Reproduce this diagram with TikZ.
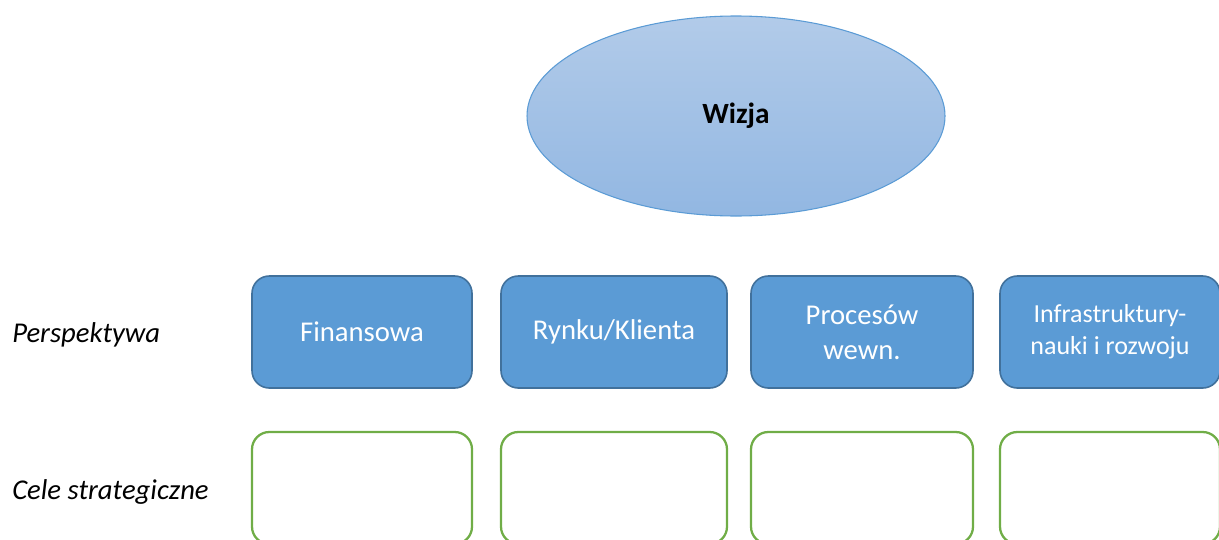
\documentclass[tikz,border=0pt]{standalone}
\usepackage{fontspec}
\setmainfont{Carlito}
\usetikzlibrary{shapes.geometric}

\definecolor{boxblue}{RGB}{91,155,213}
\definecolor{boxedge}{RGB}{65,113,156}
\definecolor{goalgreen}{RGB}{112,173,71}
\definecolor{ovaltop}{RGB}{178,203,233}
\definecolor{ovalbot}{RGB}{146,183,226}
\definecolor{ovaledge}{RGB}{91,155,213}

\begin{document}
\begin{tikzpicture}[x=0.75pt,y=0.75pt,yscale=-1,xscale=1,
  persp/.style={draw=boxedge,fill=boxblue,line width=1.2pt,rounded corners=13pt,
    minimum height=84pt,inner sep=0pt,align=center,text=white,
    font=\fontsize{21.5pt}{26pt}\selectfont},
  goal/.style={draw=goalgreen,line width=1.7pt,rounded corners=13pt,
    minimum height=84pt,inner sep=0pt},
  rowlabel/.style={anchor=west,inner sep=0pt,font=\fontsize{21.5pt}{26pt}\selectfont\itshape}]
\clip (0,0) rectangle (1219,539);

% Vision
\node [ellipse,draw=ovaledge,line width=0.8pt,top color=ovaltop,bottom color=ovalbot,
  minimum width=313.5pt,minimum height=150pt,inner sep=0pt,
  font=\fontsize{22pt}{26pt}\selectfont\bfseries] (wizja) at (736,116) {Wizja};

% Row labels
\node [rowlabel] (perspLbl) at (12,335) {Perspektywa};
\node [rowlabel] (celeLbl) at (12,492) {Cele strategiczne};

% Perspectives
\node [persp,minimum width=165pt] (fin) at (362,332) {Finansowa};
\node [persp,minimum width=169.5pt] (rynek) at (614,332) {Rynku/Klienta};
\node [persp,minimum width=166.5pt] (proc) at (862,332) {Procesów\\wewn.};
\node [persp,minimum width=165pt,font=\fontsize{19.5pt}{24pt}\selectfont] (infra) at (1110,332) {Infrastruktury-\\nauki i rozwoju};

% Strategic goals
\node [goal,minimum width=165pt] (celFin) at (362,488) {};
\node [goal,minimum width=169.5pt] (celRynek) at (614,488) {};
\node [goal,minimum width=166.5pt] (celProc) at (862,488) {};
\node [goal,minimum width=165pt] (celInfra) at (1110,488) {};
\end{tikzpicture}
\end{document}
